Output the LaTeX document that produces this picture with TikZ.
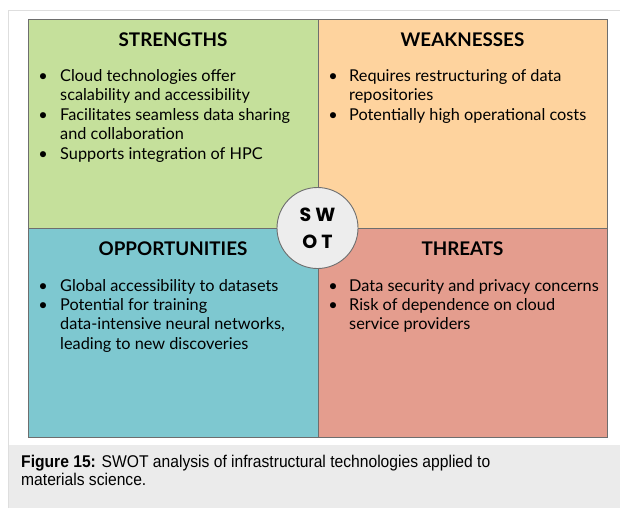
\documentclass[tikz,border=0pt]{standalone}
\usepackage{fontspec}
\newfontfamily\lato{Lato}
\newfontfamily\capfont[FakeStretch=0.92]{Liberation Sans}
\newfontfamily\swotfont{Poppins}
\definecolor{sgreen}{RGB}{197,224,155}
\definecolor{worange}{RGB}{254,211,158}
\definecolor{oblue}{RGB}{126,200,208}
\definecolor{tred}{RGB}{228,157,142}
\definecolor{capbg}{RGB}{235,235,235}
\definecolor{framec}{RGB}{222,222,222}
\definecolor{edgec}{RGB}{110,110,110}
\tikzset{
  quad/.style={draw=edgec, line width=0.9pt, inner sep=0pt, minimum width=290pt, minimum height=209pt},
  head/.style={font={\lato\bfseries\fontsize{18.8}{22}\selectfont}, inner sep=0pt, anchor=base},
  bodytext/.style={font={\lato\fontsize{16.3}{19.4}\selectfont}, align=left, inner sep=0pt, anchor=base west},
  bul/.style={font={\lato\fontsize{16.3}{19.4}\selectfont}, inner sep=0pt, anchor=base},
}
\begin{document}
\begin{tikzpicture}[x=1pt,y=-1pt]
\useasboundingbox (0,0) rectangle (620,508);
\fill[white] (0,0) rectangle (620,508);
% frame and caption background
\fill[capbg] (8,445) rectangle (620,508);
\draw[framec, line width=1pt] (8,508) -- (8,11) -- (620,11);
% quadrants
\node[quad, fill=sgreen, minimum width=290pt] (S) at (173,123.5) {};
\node[quad, fill=worange, minimum width=289pt] (W) at (462.5,123.5) {};
\node[quad, fill=oblue, minimum width=290pt] (O) at (173,332.5) {};
\node[quad, fill=tred, minimum width=289pt] (T) at (462.5,332.5) {};
% headings
\node[head] (hS) at (173,46.7) {STRENGTHS};
\node[head] (hW) at (462.5,46.7) {WEAKNESSES};
\node[head] (hO) at (173,255) {OPPORTUNITIES};
\node[head] (hT) at (462.5,255) {THREATS};
% strengths (base anchor = baseline of last line)
\node[bul] (bS1) at (43,81.5) {•};
\node[bodytext] (tS1) at (60,100.9) {Cloud technologies offer\\scalability and accessibility};
\node[bul] (bS2) at (43,120.3) {•};
\node[bodytext] (tS2) at (60,139.7) {Facilitates seamless data sharing\\and collaboration};
\node[bul] (bS3) at (43,159.1) {•};
\node[bodytext] (tS3) at (60,159.1) {Supports integration of HPC};
% weaknesses
\node[bul] (bW1) at (333,81.5) {•};
\node[bodytext] (tW1) at (349,100.9) {Requires restructuring of data\\repositories};
\node[bul] (bW2) at (333,120.3) {•};
\node[bodytext] (tW2) at (349,120.3) {Potentially high operational costs};
% opportunities
\node[bul] (bO1) at (43,291) {•};
\node[bodytext] (tO1) at (60,291) {Global accessibility to datasets};
\node[bul] (bO2) at (43,310.4) {•};
\node[bodytext] (tO2) at (60,349.2) {Potential for training\\data-intensive neural networks,\\leading to new discoveries};
% threats
\node[bul] (bT1) at (333,291) {•};
\node[bodytext] (tT1) at (349,291) {Data security and privacy concerns};
\node[bul] (bT2) at (333,310.4) {•};
\node[bodytext] (tT2) at (349,329.8) {Risk of dependence on cloud\\service providers};
% centre circle
\node[circle, draw=edgec, line width=0.9pt, fill=capbg!90!white, minimum size=81pt, inner sep=0pt] (C) at (317.5,228) {};
\node[font={\swotfont\bfseries\fontsize{19}{27}\selectfont}, align=center, inner sep=0pt] (Ct) at (317.5,228.5) {S W\\O T};
% caption
\node[font={\capfont\fontsize{17}{18.5}\selectfont}, align=left, inner sep=0pt, anchor=base west] (cap) at (21,485.8) {\textbf{Figure 15:} SWOT analysis of infrastructural technologies applied to\\materials science.};
\end{tikzpicture}
\end{document}
